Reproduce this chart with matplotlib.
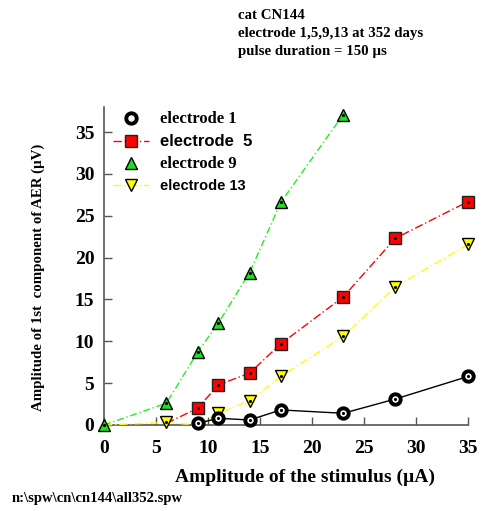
import matplotlib.pyplot as plt
from matplotlib.lines import Line2D

# stimulus amplitude (uA) and AER amplitude (uV) per electrode
x_e1 = [9, 11, 14, 17, 23, 28, 35]
y_e1 = [0.2, 0.8, 0.6, 1.8, 1.4, 3.1, 5.8]

x_e5 = [6, 9, 11, 14, 17, 23, 28, 35]
y_e5 = [0.2, 2.0, 4.8, 6.2, 9.7, 15.3, 22.3, 26.7]

x_e9 = [0, 6, 9, 11, 14, 17, 23]
y_e9 = [0.0, 2.6, 8.7, 12.2, 18.2, 26.6, 37.1]

x_e13 = [0, 6, 9, 11, 14, 17, 23, 28, 35]
y_e13 = [0.0, 0.3, 0.0, 1.4, 2.9, 5.8, 10.6, 16.5, 21.6]

labels = ['electrode 1', 'electrode  5', 'electrode 9', 'electrode 13']

serif = 'Liberation Serif'
sans = 'Liberation Sans'

fig = plt.figure(figsize=(4.84, 5.11), dpi=100)
ax = fig.add_axes([0.2149, 0.1683, 0.7521, 0.6223])

dot = dict(marker='.', ms=2.5, color='black', ls='none', clip_on=False, zorder=10)

# electrode 5 - red squares, dash-dot
ax.plot(x_e5, y_e5, color='red', lw=1, ls=(0, (6, 2, 1, 2)), marker='s', ms=8,
        mfc='red', mec='#222222', mew=1, markevery=list(range(1, len(x_e5))),
        clip_on=False, zorder=3)
ax.plot(x_e5[1:], y_e5[1:], **dot)

# electrode 13 - yellow down triangles
shown13 = [1, 3, 4, 5, 6, 7, 8]
ax.plot(x_e13, y_e13, color='#ffff00', lw=1, ls=(0, (6, 2, 1, 2)), marker='v', ms=9,
        mfc='#ffff00', mec='black', mew=1, markevery=shown13,
        clip_on=False, zorder=4)
ax.plot([x_e13[i] for i in shown13], [y_e13[i] for i in shown13], **dot)

# electrode 1 - black bullseye circles, solid
ax.plot(x_e1, y_e1, color='black', lw=1, marker='o', ms=7.5, mfc='white',
        mec='black', mew=2.8, clip_on=False, zorder=5)
ax.plot(x_e1, y_e1, **dot)

# electrode 9 - green up triangles
ax.plot(x_e9, y_e9, color='#22ee22', lw=1, ls=(0, (5, 2, 1, 2)), marker='^', ms=9,
        mfc='#22dd22', mec='black', mew=1, clip_on=False, zorder=6)
ax.plot(x_e9, y_e9, **dot)

ax.set_xlim(0, 35)
ax.set_ylim(0, 38)
ax.set_xticks(range(0, 36, 5))
ax.set_yticks(range(0, 36, 5))
ax.tick_params(direction='in', length=6, width=1, color='#555555')
ax.tick_params(axis='x', pad=11)
ax.tick_params(axis='y', pad=7)
for lab in ax.get_xticklabels() + ax.get_yticklabels():
    lab.set_fontfamily(serif)
    lab.set_fontweight('bold')
    lab.set_fontsize(14)
for s in ['top', 'right']:
    ax.spines[s].set_visible(False)
for s in ['left', 'bottom']:
    ax.spines[s].set_color('#555555')
    ax.spines[s].set_linewidth(1.2)

ax.set_xlabel('Amplitude of the stimulus (\u00b5A)', fontfamily=serif,
              fontweight='bold', fontsize=14)
ax.xaxis.set_label_coords(0.552, -0.137)
ax.set_ylabel('Amplitude of 1st  component of AER (\u00b5V)', fontfamily=serif,
              fontweight='bold', fontsize=10.7)
ax.yaxis.set_label_coords(-0.162, 0.465)

handles = [
    Line2D([], [], ls='none', marker='o', ms=7.5, mfc='white', mec='black', mew=2.8),
    Line2D([], [], color='red', lw=1, ls=(0, (6, 2, 1, 2)), marker='s', ms=8,
           mfc='red', mec='#222222', mew=1),
    Line2D([], [], ls='none', marker='^', ms=9, mfc='#22dd22', mec='black', mew=1),
    Line2D([], [], color='#ffff00', lw=1, ls=(0, (6, 2, 1, 2)), marker='v', ms=9,
           mfc='#ffff00', mec='black', mew=1),
]
leg = ax.legend(handles, labels, loc='upper left', bbox_to_anchor=(0.01, 1.005),
                frameon=False, handlelength=2.6, handletextpad=0.8,
                labelspacing=0.5, borderaxespad=0)
fonts = [(serif, 12), (sans, 12), (serif, 12), (sans, 10.5)]
for t, (fam, sz) in zip(leg.get_texts(), fonts):
    t.set_fontfamily(fam)
    t.set_fontweight('bold')
    t.set_fontsize(sz)

fig.text(0.492, 0.982, 'cat CN144\nelectrode 1,5,9,13 at 352 days\npulse duration = 150 \u00b5s',
         fontfamily=serif, fontweight='bold', fontsize=10.7, va='top', ha='left',
         linespacing=1.5)
fig.text(0.025, 0.012, 'n:\\spw\\cn\\cn144\\all352.spw', fontfamily=serif,
         fontweight='bold', fontsize=10.5, va='bottom', ha='left')

fig.savefig('out.png', dpi=100)
